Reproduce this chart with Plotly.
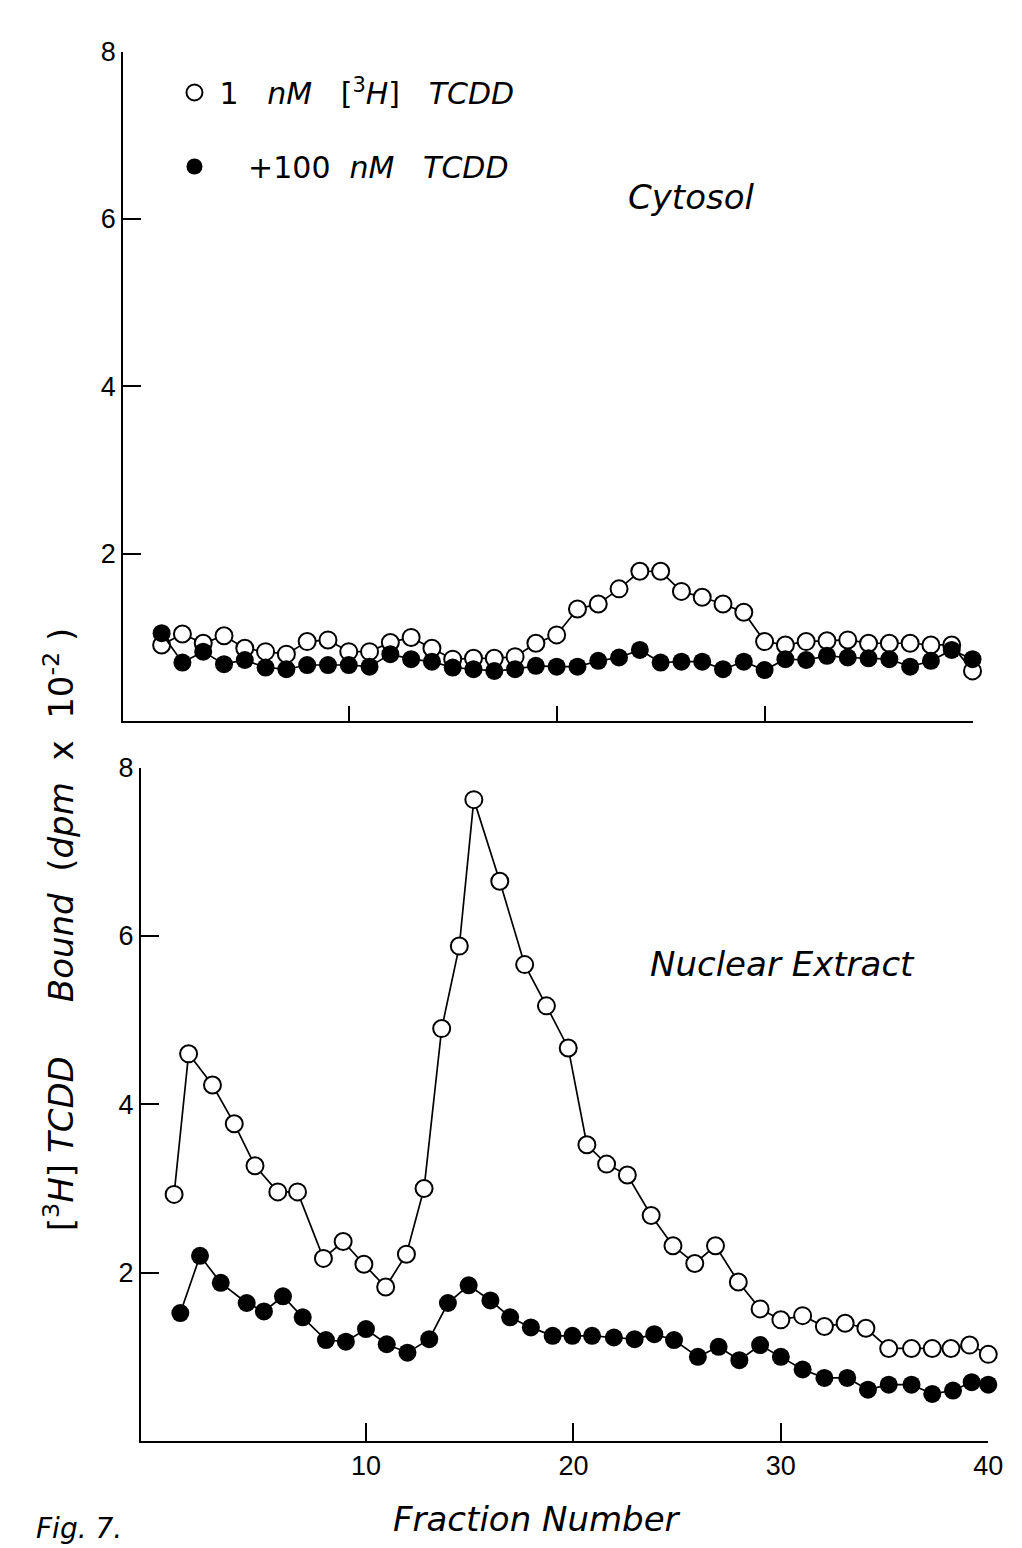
import plotly.graph_objects as go

W, H = 1022, 1548

# ---- data -------------------------------------------------------------
# Cytosol gradient (top panel)
cyto_fraction = list(range(1, 41))
cyto_tcdd_1nM = [0.91, 1.04, 0.93, 1.02, 0.87, 0.83, 0.80, 0.95, 0.97, 0.83,
                 0.83, 0.94, 1.00, 0.87, 0.74, 0.75, 0.75, 0.77, 0.93, 1.03,
                 1.34, 1.40, 1.58, 1.79, 1.79, 1.55, 1.48, 1.40, 1.30, 0.95,
                 0.91, 0.95, 0.96, 0.97, 0.93, 0.93, 0.93, 0.91, 0.91, 0.60]
cyto_tcdd_excess = [1.05, 0.70, 0.83, 0.68, 0.73, 0.64, 0.62, 0.67, 0.67, 0.67,
                    0.65, 0.80, 0.74, 0.71, 0.64, 0.62, 0.60, 0.62, 0.66, 0.65,
                    0.65, 0.72, 0.76, 0.85, 0.70, 0.71, 0.71, 0.62, 0.71, 0.61,
                    0.74, 0.73, 0.78, 0.76, 0.75, 0.74, 0.65, 0.72, 0.85, 0.74]

# Nuclear extract gradient (bottom panel)
nuc_fraction_1nM = [0.75, 1.45, 2.6, 3.65, 4.65, 5.75, 6.7, 7.95, 8.9, 9.9,
                    10.95, 11.95, 12.8, 13.65, 14.5, 15.2, 16.45, 17.65, 18.7, 19.75,
                    20.65, 21.6, 22.6, 23.75, 24.8, 25.85, 26.85, 27.95, 29.0, 30.0,
                    31.05, 32.1, 33.1, 34.1, 35.2, 36.3, 37.3, 38.2, 39.1, 40.0]
nuc_tcdd_1nM = [2.93, 4.60, 4.23, 3.77, 3.27, 2.96, 2.96, 2.17, 2.37, 2.10,
                1.83, 2.22, 3.00, 4.90, 5.88, 7.62, 6.65, 5.66, 5.17, 4.67,
                3.52, 3.29, 3.16, 2.68, 2.32, 2.11, 2.32, 1.89, 1.57, 1.44,
                1.49, 1.36, 1.40, 1.34, 1.10, 1.10, 1.10, 1.10, 1.14, 1.03]
nuc_fraction_excess = [1.05, 2.0, 3.0, 4.25, 5.08, 6.0, 6.95, 8.07, 9.03, 10.0,
                       11.0, 12.0, 13.05, 13.95, 14.95, 16.0, 16.95, 17.95, 19.0, 19.95,
                       20.9, 21.95, 22.95, 23.9, 24.85, 26.0, 27.0, 28.0, 29.0, 30.0,
                       31.05, 32.1, 33.2, 34.2, 35.2, 36.3, 37.3, 38.3, 39.2, 40.0]
nuc_tcdd_excess = [1.52, 2.20, 1.88, 1.64, 1.54, 1.72, 1.47, 1.20, 1.18, 1.33,
                   1.15, 1.05, 1.21, 1.64, 1.85, 1.67, 1.47, 1.35, 1.25, 1.25,
                   1.25, 1.23, 1.21, 1.27, 1.20, 1.00, 1.12, 0.96, 1.14, 1.00,
                   0.85, 0.75, 0.75, 0.61, 0.67, 0.67, 0.56, 0.60, 0.70, 0.67]

y_ticks = [2, 4, 6, 8]
x_ticks = [10, 20, 30, 40]

NB = "\u00a0"
label_1nM = ("1" + NB * 3 + "<i>nM</i>" + NB * 3 + "[<sup>3</sup><i>H</i>]"
             + NB * 3 + "<i>TCDD</i>")
label_excess = NB * 3 + "+100" + NB * 2 + "<i>nM</i>" + NB * 3 + "<i>TCDD</i>"
y_title = ("[<sup>3</sup><i>H</i>]" + NB + "<i>TCDD</i>" + NB * 5 + "<i>Bound</i>"
           + NB * 2 + "(<i>dpm</i>" + NB * 2 + "x" + NB * 2 + "10<sup>-2</sup>" + NB + ")")

TEXT_FONT = "DejaVu Sans"
NUM_FONT = "Liberation Sans"


def px_x(p):
    return p / W


def px_y(p):
    return 1 - p / H


open_marker = dict(symbol="circle", size=17, color="white",
                   line=dict(color="black", width=2))
filled_marker = dict(symbol="circle", size=18, color="black",
                     line=dict(color="black", width=0))
link = dict(color="black", width=1.7)

fig = go.Figure()

panels = [
    ("x", "y", cyto_fraction, cyto_tcdd_1nM, cyto_fraction, cyto_tcdd_excess),
    ("x2", "y2", nuc_fraction_1nM, nuc_tcdd_1nM, nuc_fraction_excess, nuc_tcdd_excess),
]
for xa, ya, xo, yo, xf, yf in panels:
    fig.add_trace(go.Scatter(x=xo, y=yo, xaxis=xa, yaxis=ya, mode="lines+markers",
                             marker=open_marker, line=link, cliponaxis=False,
                             showlegend=False, hoverinfo="skip"))
    fig.add_trace(go.Scatter(x=xf, y=yf, xaxis=xa, yaxis=ya, mode="lines+markers",
                             marker=filled_marker, line=link, cliponaxis=False,
                             showlegend=False, hoverinfo="skip"))

# legend entries (marker only)
fig.add_trace(go.Scatter(x=[None], y=[None], mode="markers", marker=open_marker,
                         name=label_1nM, legendgroup="a", showlegend=True))
fig.add_trace(go.Scatter(x=[None], y=[None], mode="markers", marker=filled_marker,
                         name=label_excess, legendgroup="b", showlegend=True))

axis_common = dict(showline=True, linecolor="black", linewidth=2,
                   showgrid=False, zeroline=False, ticks="inside",
                   tickcolor="black", tickwidth=2, mirror=False)
num_font = dict(family=NUM_FONT, size=27, color="black")

fig.update_layout(
    width=W, height=H,
    margin=dict(l=0, r=0, t=0, b=0),
    paper_bgcolor="white", plot_bgcolor="white",
    xaxis=dict(domain=[px_x(125), px_x(987)], range=[-0.85, 40], anchor="y",
               tickvals=x_ticks, ticklen=15, showticklabels=False, **axis_common),
    yaxis=dict(domain=[px_y(713), px_y(37)], range=[0, 8], anchor="x",
               tickvals=y_ticks, ticklen=18, tickfont=num_font, **axis_common),
    xaxis2=dict(domain=[px_x(143), px_x(1003)], range=[-0.85, 40], anchor="y2",
                tickvals=x_ticks, ticklen=18, tickfont=num_font, **axis_common),
    yaxis2=dict(domain=[px_y(1440), px_y(760)], range=[0, 8], anchor="x2",
                tickvals=y_ticks, ticklen=18, tickfont=num_font, **axis_common),
    legend=dict(x=px_x(172), y=px_y(52), xanchor="left", yanchor="top",
                font=dict(family=TEXT_FONT, size=30, color="black"),
                tracegroupgap=32, itemwidth=40, bgcolor="rgba(0,0,0,0)"),
    showlegend=True,
)

annotations = [
    dict(text="<i>Cytosol</i>", x=px_x(702), y=px_y(184), size=34),
    dict(text="<i>Nuclear" + NB + "Extract</i>", x=px_x(794), y=px_y(958), size=34),
    dict(text="<i>Fraction" + NB + "Number</i>", x=px_x(545), y=px_y(1519), size=34),
]
for a in annotations:
    size = a.pop("size")
    fig.add_annotation(xref="paper", yref="paper", showarrow=False,
                       xanchor="center", yanchor="middle",
                       font=dict(family=TEXT_FONT, size=size, color="black"), **a)

fig.add_annotation(text="<i>Fig. 7.</i>", xref="paper", yref="paper",
                   x=px_x(35), y=px_y(1528), xanchor="left", yanchor="middle",
                   showarrow=False, font=dict(family=TEXT_FONT, size=28, color="black"))

fig.add_annotation(
    text=y_title, xref="paper", yref="paper", x=px_x(60), y=px_y(924),
    xanchor="center", yanchor="middle", textangle=-90, showarrow=False,
    font=dict(family=TEXT_FONT, size=34, color="black"))

fig.write_html("out.html")
